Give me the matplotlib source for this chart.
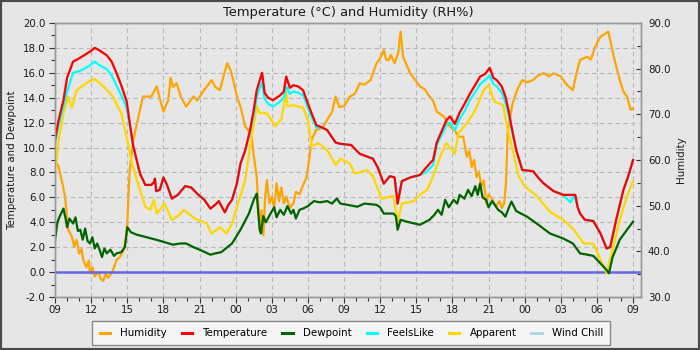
import matplotlib
matplotlib.use("Agg")
import matplotlib.pyplot as plt
from matplotlib.ticker import MultipleLocator, FuncFormatter, FormatStrFormatter
from matplotlib.patches import Rectangle

# Hours elapsed since 09:00 on the first day
temp_t = [0, 0.3, 0.7, 1.0, 1.5, 1.9, 2.4, 2.9, 3.3, 3.7, 4.3, 4.7, 5.1, 5.5, 5.95, 6.2, 6.5,
          7.06, 7.5, 8.0, 8.2, 8.3, 8.4, 8.7, 9.0, 9.3, 9.7, 10.2, 10.8, 11.3, 11.8, 12.4,
          12.9, 13.3, 13.6, 14.1, 14.4, 14.7, 15.1, 15.4, 15.8, 16.2, 16.5, 16.75, 17.0,
          17.2, 17.4, 17.7, 18.1, 18.7, 19.0, 19.2, 19.5, 19.8, 20.2, 20.6, 21.2, 21.7,
          22.2, 22.6, 23.3, 23.7, 24.6, 25.3, 26.4, 26.8, 27.3, 27.8, 28.2, 28.45, 28.8,
          29.5, 30.3, 31.1, 31.4, 31.7, 32.1, 32.5, 32.8, 33.2, 33.6, 34.0, 34.5, 35.0,
          35.3, 35.7, 36.1, 36.4, 36.7, 37.1, 37.4, 37.7, 37.9, 38.3, 38.8, 39.7, 40.2,
          40.6, 41.0, 41.4, 42.2, 43.2, 43.4, 43.6, 44.0, 44.7, 45.3, 45.8, 46.1, 46.6,
          47.2, 47.6, 48.0]
temperature = [10.6, 12.2, 13.8, 15.6, 16.9, 17.1, 17.4, 17.7, 18.0, 17.8, 17.4, 16.9, 16.0,
               15.0, 13.7, 12.0, 10.1, 7.9, 7.0, 7.0, 7.2, 7.5, 6.5, 6.6, 7.6, 7.0, 5.9,
               6.2, 6.9, 6.8, 6.3, 5.8, 5.1, 5.4, 5.7, 4.8, 5.4, 5.8, 7.1, 8.7, 9.8, 11.4,
               13.0, 14.6, 15.4, 16.0, 14.4, 14.0, 13.8, 14.2, 14.5, 15.7, 14.8, 15.0, 14.9,
               14.6, 13.0, 11.8, 11.6, 11.4, 10.4, 10.3, 10.2, 9.5, 9.1, 8.4, 7.1, 7.7, 7.6,
               5.5, 7.3, 7.6, 7.8, 8.7, 9.0, 10.4, 11.3, 12.2, 12.5, 11.9, 12.8, 13.5, 14.4,
               15.2, 15.7, 15.9, 16.4, 15.6, 15.4, 14.9, 14.1, 12.8, 11.7, 9.8, 8.2, 8.1,
               7.5, 7.1, 6.8, 6.5, 6.2, 6.2, 5.2, 4.7, 4.2, 4.1, 3.1, 1.9, 2.0, 4.2, 6.6,
               7.7, 9.0]

feels_t = [0, 0.3, 0.7, 1.0, 1.5, 1.9, 2.4, 2.9, 3.3, 3.7, 4.3, 4.7, 5.1, 5.5, 5.95, 6.2, 6.5,
           7.06, 7.5, 8.0, 8.2, 8.3, 8.4, 8.7, 9.0, 9.3, 9.7, 10.2, 10.8, 11.3, 11.8, 12.4,
           12.9, 13.3, 13.6, 14.1, 14.4, 14.7, 15.1, 15.4, 15.8, 16.2, 16.5, 16.75, 17.0,
           17.2, 17.4, 17.7, 18.1, 18.7, 19.0, 19.2, 19.5, 19.8, 20.2, 20.6, 21.2, 21.7,
           22.2, 22.6, 23.3, 23.7, 24.6, 25.3, 26.4, 26.8, 27.3, 27.8, 28.2, 28.45, 28.8,
           29.5, 30.3, 30.8, 31.1, 31.4, 31.7, 32.1, 32.5, 32.8, 33.2, 33.6, 34.0, 34.5,
           35.0, 35.3, 35.7, 36.1, 36.4, 36.7, 37.1, 37.4, 37.7, 37.9, 38.3, 38.8, 39.7,
           40.2, 40.6, 41.0, 41.4, 42.2, 42.5, 42.8, 43.2, 43.4, 43.6, 44.0, 44.7, 45.3,
           45.8, 46.1, 46.6, 47.2, 47.6, 48.0]
feels_like = [10.4, 11.8, 13.3, 14.5, 16.0, 16.1, 16.3, 16.6, 16.9, 16.6, 16.3, 15.8, 15.0,
              14.2, 13.2, 11.8, 10.1, 7.9, 7.0, 7.0, 7.2, 7.5, 6.5, 6.6, 7.6, 7.0, 5.9,
              6.2, 6.9, 6.8, 6.3, 5.8, 5.1, 5.4, 5.7, 4.8, 5.4, 5.8, 7.1, 8.7, 9.8, 11.3,
              12.6, 14.0, 14.8, 15.2, 13.9, 13.5, 13.3, 13.7, 14.0, 14.9, 14.3, 14.5, 14.4,
              14.2, 12.7, 11.6, 11.6, 11.4, 10.4, 10.3, 10.2, 9.5, 9.1, 8.4, 7.1, 7.7, 7.6,
              5.5, 7.3, 7.6, 7.8, 8.0, 8.3, 8.6, 10.2, 11.0, 11.8, 12.0, 11.4, 12.3, 12.9,
              13.9, 14.6, 15.1, 15.4, 15.8, 15.1, 14.9, 14.4, 13.6, 12.5, 11.6, 9.8, 8.2,
              8.1, 7.5, 7.1, 6.8, 6.5, 6.2, 5.9, 5.6, 6.2, 5.2, 4.7, 4.2, 4.1, 3.1, 1.9,
              2.0, 4.2, 6.6, 7.7, 9.0]

apparent_t = [0, 0.3, 0.7, 1.1, 1.4, 1.8, 2.35, 2.8, 3.3, 3.7, 4.15, 4.8, 5.5, 6.0, 6.4, 6.8,
              7.5, 7.9, 8.2, 8.45, 9.1, 9.7, 10.2, 10.7, 11.6, 12.6, 13.0, 13.7, 14.25, 14.7,
              15.2, 15.8, 16.2, 16.75, 17.0, 17.6, 18.3, 18.8, 19.2, 19.3, 19.8, 20.6, 21.0,
              21.3, 21.9, 22.6, 23.3, 23.7, 24.5, 24.9, 25.9, 26.4, 27.1, 28.1, 28.45, 28.8,
              29.8, 30.3, 30.9, 31.4, 32.0, 32.5, 33.2, 33.5, 34.2, 34.9, 35.6, 36.0, 36.5,
              37.2, 37.6, 38.0, 38.5, 39.0, 40.0, 41.1, 42.2, 43.0, 43.9, 44.7, 45.3, 45.8,
              46.3, 46.9, 47.5, 48.0]
apparent = [7.9, 10.6, 12.75, 14.1, 13.2, 14.6, 15.0, 15.3, 15.5, 15.2, 14.8, 14.1, 12.75,
            10.6, 8.7, 7.4, 5.25, 5.0, 5.8, 4.7, 5.5, 4.2, 4.5, 5.0, 4.3, 3.9, 3.1, 3.6, 3.1,
            3.9, 5.5, 7.4, 10.1, 13.3, 12.75, 12.75, 11.7, 12.3, 14.4, 13.3, 13.4, 13.2, 12.2,
            10.1, 10.35, 9.8, 8.6, 9.1, 8.7, 7.9, 8.2, 7.7, 5.9, 6.1, 4.0, 5.5, 5.7, 6.2,
            6.6, 7.7, 9.3, 10.35, 9.5, 11.15, 11.95, 13.0, 14.6, 15.0, 13.7, 13.4, 11.4, 9.8,
            7.7, 6.9, 6.1, 4.85, 4.2, 3.5, 2.3, 2.3, 1.0, -0.1, 1.8, 4.2, 6.1, 7.3]

dew_t = [0, 0.2, 0.4, 0.7, 0.9, 1.0, 1.2, 1.5, 1.7, 1.9, 2.1, 2.3, 2.5, 2.7, 2.9, 3.1, 3.3,
         3.5, 3.7, 3.9, 4.1, 4.3, 4.6, 4.9, 5.1, 5.5, 5.8, 6.0, 6.3, 6.8, 7.6, 8.4, 9.1, 9.8,
         10.4, 10.9, 11.5, 12.0, 12.9, 13.3, 13.8, 14.7, 15.4, 16.1, 16.5, 16.75, 16.9, 17.0,
         17.1, 17.3, 17.5, 17.9, 18.2, 18.4, 18.7, 19.0, 19.3, 19.6, 19.8, 20.0, 20.3, 20.6,
         21.0, 21.5, 22.0, 22.6, 23.0, 23.4, 23.7, 24.3, 25.1, 25.7, 26.7, 27.0, 27.3, 28.1,
         28.3, 28.45, 28.7, 29.2, 30.3, 31.1, 31.5, 31.8, 32.1, 32.4, 32.7, 33.1, 33.4, 33.6,
         34.0, 34.3, 34.6, 34.9, 35.1, 35.3, 35.5, 35.8, 36.0, 36.3, 36.8, 37.1, 37.4, 37.7,
         37.9, 38.3, 39.2, 40.0, 41.1, 42.2, 43.0, 43.6, 44.2, 44.7, 45.3, 45.8, 46.0, 46.3,
         46.9, 47.5, 48.0]
dewpoint = [2.6, 4.0, 4.5, 5.1, 4.2, 3.6, 4.3, 3.9, 4.4, 3.3, 3.4, 2.6, 3.5, 2.5, 2.3, 2.8,
            1.9, 2.3, 1.8, 1.2, 1.9, 1.5, 1.8, 1.3, 1.5, 1.6, 2.0, 3.6, 3.2, 3.0, 2.8, 2.6,
            2.4, 2.2, 2.3, 2.3, 2.0, 1.8, 1.4, 1.5, 1.6, 2.3, 3.4, 4.7, 5.8, 6.3, 4.5, 3.4,
            3.1, 4.5, 4.0, 4.7, 5.2, 4.4, 5.0, 4.6, 5.3, 4.7, 5.0, 4.3, 5.0, 5.1, 5.3, 5.7,
            5.6, 5.7, 5.5, 5.9, 5.5, 5.4, 5.25, 5.5, 5.4, 5.2, 4.7, 4.7, 4.5, 3.4, 4.2, 4.05,
            3.8, 4.2, 4.6, 5.0, 4.6, 5.8, 5.2, 5.8, 5.5, 6.2, 5.9, 6.6, 6.1, 6.9, 6.2, 7.1,
            6.0, 5.8, 5.2, 5.7, 5.0, 4.8, 4.45, 5.2, 5.66, 4.9, 4.45, 3.9, 3.1, 2.7, 2.3, 1.5,
            1.4, 1.3, 0.7, 0.17, -0.1, 1.2, 2.6, 3.4, 4.05]

hum_t = [0, 0.3, 0.6, 0.83, 1.1, 1.4, 1.6, 1.8, 2.0, 2.2, 2.35, 2.6, 2.8, 2.9, 3.1, 3.3, 3.6,
         3.8, 4.0, 4.2, 4.4, 4.7, 4.9, 5.1, 5.4, 5.7, 5.9, 6.0, 6.2, 6.5, 6.9, 7.3, 8.0, 8.45,
         8.7, 9.0, 9.4, 9.6, 9.8, 10.1, 10.5, 10.9, 11.5, 11.8, 12.3, 13.0, 13.3, 13.7, 14.0,
         14.3, 14.6, 14.8, 15.1, 15.4, 15.8, 16.3, 16.5, 16.75, 17.0, 17.15, 17.3, 17.45,
         17.6, 17.8, 18.0, 18.2, 18.4, 18.6, 18.8, 19.0, 19.2, 19.5, 19.8, 20.0, 20.3, 20.6,
         20.9, 21.1, 21.3, 21.7, 22.2, 22.6, 23.0, 23.3, 23.6, 24.0, 24.5, 24.9, 25.3, 25.7,
         26.2, 26.7, 27.0, 27.3, 27.5, 27.7, 27.9, 28.2, 28.5, 28.7, 28.9, 29.5, 30.3, 30.7,
         31.1, 31.4, 31.7, 32.3, 32.8, 33.2, 33.5, 33.9, 34.2, 34.4, 34.6, 34.8, 35.0, 35.2,
         35.4, 35.6, 35.8, 36.0, 36.3, 36.6, 36.9, 37.1, 37.3, 37.45, 37.6, 38.0, 38.4, 38.8,
         39.2, 39.7, 40.1, 40.6, 41.0, 41.4, 42.0, 42.4, 42.7, 43.0, 43.3, 43.6, 44.2, 44.5,
         44.85, 45.3, 45.6, 45.95, 46.4, 46.9, 47.2, 47.5, 47.8, 48.0]
humidity = [60.0, 58.5, 55.0, 52.0, 44.7, 43.2, 41.0, 42.5, 39.5, 40.5, 38.1, 36.5, 38.0,
            35.2, 36.5, 34.5, 35.5, 34.0, 33.5, 35.0, 34.2, 35.2, 36.5, 38.1, 38.8, 40.3,
            43.0, 46.1, 57.8, 64.4, 69.1, 73.9, 73.9, 76.1, 73.5, 70.6, 73.1, 78.0, 76.0,
            76.8, 73.5, 71.7, 73.9, 73.0, 75.0, 77.5, 76.0, 75.3, 78.5, 81.2, 79.5, 77.5,
            74.0, 71.7, 67.3, 65.8, 61.0, 56.3, 44.7, 49.0, 43.5, 52.0, 55.6, 50.5, 52.0,
            49.5, 54.9, 51.0, 54.0, 50.5, 52.0, 49.5, 50.5, 53.0, 52.5, 54.5, 56.3, 60.0,
            64.4, 66.6, 67.0, 68.8, 70.5, 73.9, 71.6, 71.8, 73.9, 74.5, 76.8, 76.5, 77.5,
            81.2, 82.3, 84.1, 82.0, 81.9, 83.0, 81.2, 83.5, 88.1, 82.6, 79.0, 76.1, 75.5,
            73.9, 73.0, 70.6, 69.5, 67.3, 66.5, 65.1, 65.1, 60.7, 62.0, 58.5, 60.0, 56.3,
            57.5, 54.2, 55.5, 50.5, 52.5, 51.5, 49.8, 51.0, 49.5, 50.5, 55.0, 66.6, 72.4,
            75.5, 77.5, 77.0, 77.5, 78.5, 79.0, 78.3, 79.0, 78.3, 76.8, 76.0, 75.3, 79.0,
            81.9, 82.6, 82.0, 84.8, 87.0, 87.5, 88.1, 82.6, 77.5, 75.0, 73.9, 71.0, 71.3]

# Wind chill never drops below the air temperature over this period
wind_chill = temperature

hour_labels = ["09", "12", "15", "18", "21", "00", "03", "06"]

BG = "#e6e6e6"
fig = plt.figure(figsize=(7, 3.5), dpi=100, facecolor=BG)
ax2 = fig.add_axes([0.0786, 0.1514, 0.8371, 0.7829])
ax = ax2.twinx()
# keep the temperature axis (left) on top of the humidity axis
ax.yaxis.tick_left()
ax.yaxis.set_label_position("left")
ax2.yaxis.tick_right()
ax2.yaxis.set_label_position("right")
ax.set_zorder(ax2.get_zorder() + 1)
ax.patch.set_visible(False)
ax2.set_facecolor(BG)

lw = 1.6
h_hum, = ax2.plot(hum_t, humidity, color="#ffa500", lw=lw, label="Humidity")
h_wc, = ax.plot(temp_t, wind_chill, color="#add8e6", lw=lw, label="Wind Chill")
h_app, = ax.plot(apparent_t, apparent, color="#ffd700", lw=lw, label="Apparent")
h_fl, = ax.plot(feels_t, feels_like, color="#00ffff", lw=lw, label="FeelsLike")
h_tmp, = ax.plot(temp_t, temperature, color="#ff0000", lw=lw, label="Temperature")
h_dew, = ax.plot(dew_t, dewpoint, color="#006400", lw=lw, label="Dewpoint")
ax.axhline(0, color="#6666e6", lw=1.8, zorder=1.8)

ax.set_xlim(0, 48.66)
ax.set_ylim(-2, 20)
ax2.set_ylim(30, 90)

ax.yaxis.set_major_locator(MultipleLocator(2))
ax.yaxis.set_minor_locator(MultipleLocator(1))
ax.yaxis.set_major_formatter(FormatStrFormatter("%.1f"))
ax2.yaxis.set_major_locator(MultipleLocator(10))
ax2.yaxis.set_minor_locator(MultipleLocator(5))
ax2.yaxis.set_major_formatter(FormatStrFormatter("%.1f"))
ax2.xaxis.set_major_locator(MultipleLocator(3))
ax2.xaxis.set_minor_locator(MultipleLocator(1))
ax2.xaxis.set_major_formatter(FuncFormatter(lambda v, p: hour_labels[int(round(v / 3)) % 8]))

ax.grid(True, which="major", axis="y", color="#b8b8b8", ls=(0, (4, 3)), lw=0.8, zorder=1)
ax2.grid(True, which="major", axis="x", color="#b8b8b8", ls=(0, (4, 3)), lw=0.8)

fs = 7.4
txt = "#1a1a1a"
ax.tick_params(axis="y", which="major", direction="out", length=4, width=0.8,
               labelsize=fs, colors="#333333", labelcolor=txt, pad=3)
ax.tick_params(axis="y", which="minor", direction="out", length=3, width=0.8, colors="#333333")
ax2.tick_params(axis="y", which="major", direction="in", length=3.5, width=0.8,
                labelsize=fs, colors="#333333", labelcolor=txt, pad=5)
ax2.tick_params(axis="y", which="minor", direction="in", length=3, width=0.8, colors="#333333")
ax2.tick_params(axis="x", which="major", direction="out", length=4, width=0.8,
                labelsize=fs, colors="#333333", labelcolor=txt, pad=2)
ax2.tick_params(axis="x", which="minor", direction="out", length=3, width=0.8, colors="#333333")
ax.tick_params(axis="x", which="both", bottom=False, labelbottom=False)

for a in (ax, ax2):
    for s in a.spines.values():
        s.set_color("#999999")
        s.set_linewidth(1.0)

ax.set_ylabel("Temperature and Dewpoint", fontsize=fs, color=txt, labelpad=4)
ax2.set_ylabel("Humidity", fontsize=fs, color=txt, labelpad=4)
ax2.set_title("Temperature (°C) and Humidity (RH%)", fontsize=9.4, color=txt, pad=5)

handles = [h_hum, h_tmp, h_dew, h_fl, h_app, h_wc]
leg = fig.legend(handles=handles, labels=[h.get_label() for h in handles],
                 loc="upper center", bbox_to_anchor=(0.502, 0.083), ncol=6,
                 fontsize=fs, frameon=True, fancybox=False, framealpha=1,
                 facecolor="#f5f5f5", edgecolor="#888888", handlelength=1.0,
                 handletextpad=1.0, columnspacing=1.45, borderpad=0.7, borderaxespad=0)
for line in leg.get_lines():
    line.set_linewidth(2.2)
leg.get_frame().set_linewidth(1.0)

fig.patches.append(Rectangle((0, 0), 1, 1, transform=fig.transFigure, fill=False,
                             edgecolor="#4a4a4a", lw=3, zorder=10))

fig.savefig("out.png", dpi=100, facecolor=BG)
